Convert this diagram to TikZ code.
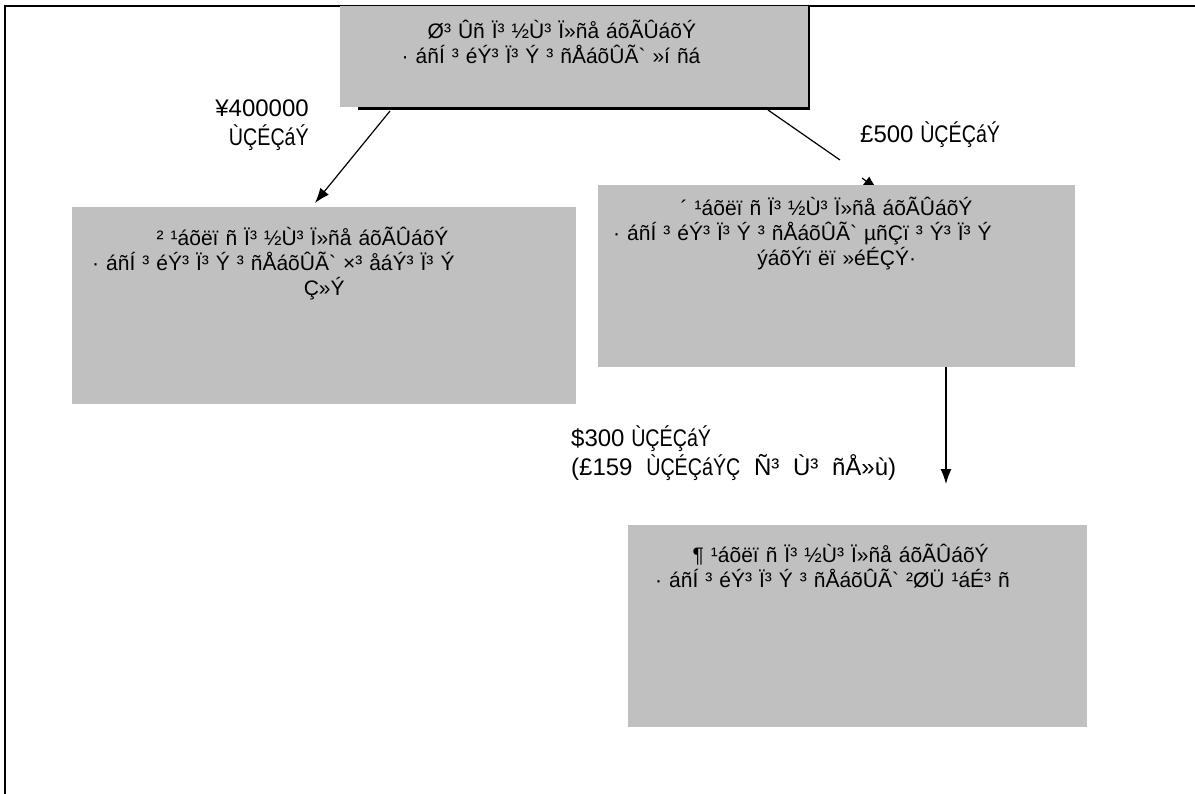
\documentclass[tikz,border=0pt]{standalone}
\usepackage{fontspec}
\usepackage{graphicx}
\setmainfont{Liberation Sans}
\newfontfamily\boxfont{Liberation Sans}[WordSpace=1.8]
\newfontfamily\lblfont{Liberation Sans}
\usetikzlibrary{arrows.meta,calc,backgrounds}
\definecolor{boxgray}{RGB}{192,192,192}
\newcommand\fitline[2]{\makebox[#1][s]{#2}}
\newcommand\narrow[1]{\scalebox{0.82}[1]{#1}}
\tikzset{
  graybox/.style={fill=boxgray, draw=none, anchor=north west, inner sep=0pt, align=center,
    font=\boxfont\fontsize{21}{25}\selectfont},
  lbl/.style={inner sep=0pt, font=\lblfont\fontsize{24}{29}\selectfont},
  conn/.style={line width=1.2pt, -{Latex[length=15pt,width=11pt]}},
  plainconn/.style={line width=1.2pt},
  frameline/.style={line width=2pt}
}
\begin{document}
\begin{tikzpicture}[x=1pt,y=-1pt]
\useasboundingbox (0,0) rectangle (1195,794);
% frame
\draw[frameline] (1195,6) -- (5,6) -- (5,794);
% boxes
\node[graybox, minimum width=468pt, minimum height=101pt, text width=468pt, text height=32pt, text depth=69pt] (tb) at (340,6)
  {\fitline{293pt}{Ø³ Ûñ Ï³ ½Ù³ Ï»ñå áõÃÛáõÝ}\\\fitline{345pt}{· áñÍ ³ éÝ³ Ï³ Ý ³ ñÅáõÛÃ` »í ñá}};
\draw[line width=3pt] ($(tb.south west)+(18,1.5)$) -- ($(tb.south east)+(2,1.5)$);
\draw[line width=2pt] ($(tb.south east)+(1,3)$) -- ($(tb.north east)+(1,0)$);
\node[graybox, minimum width=504pt, minimum height=197pt, text width=504pt, text height=38pt, text depth=159pt] (lb) at (72,207)
  {\fitline{335pt}{² ¹áõëï ñ Ï³ ½Ù³ Ï»ñå áõÃÛáõÝ}\\\fitline{464pt}{· áñÍ ³ éÝ³ Ï³ Ý ³ ñÅáõÛÃ` ×³ åáÝ³ Ï³ Ý}\\Ç»Ý};
\node[graybox, minimum width=477pt, minimum height=182pt, text width=477pt, text height=30pt, text depth=152pt] (rb) at (598,185)
  {\fitline{312pt}{´ ¹áõëï ñ Ï³ ½Ù³ Ï»ñå áõÃÛáõÝ}\\\fitline{447pt}{· áñÍ ³ éÝ³ Ï³ Ý ³ ñÅáõÛÃ` µñÇï ³ Ý³ Ï³ Ý}\\ýáõÝï ëï »éÉÇÝ·};
\node[graybox, minimum width=459pt, minimum height=202pt, text width=459pt, text height=37pt, text depth=165pt] (bb) at (628,525)
  {\fitline{330pt}{¶ ¹áõëï ñ Ï³ ½Ù³ Ï»ñå áõÃÛáõÝ}\\\fitline{405pt}{· áñÍ ³ éÝ³ Ï³ Ý ³ ñÅáõÛÃ` ²ØÜ ¹áÉ³ ñ}};
% labels
\node[lbl, anchor=north east, align=right, text height=46pt] (l1) at (309,99) {¥400000\\\narrow{ÙÇÉÇáÝ}};
\node[lbl, anchor=base west] (l2) at (860,143) {£500 \narrow{ÙÇÉÇáÝ}};
\node[lbl, anchor=north west, align=left, text height=46pt] (l3) at (571,429) {\$300 \narrow{ÙÇÉÇáÝ}\\\fitline{325pt}{(£159 \narrow{ÙÇÉÇáÝÇ} Ñ³ Ù³ ñÅ»ù)}};
% connectors
\coordinate (a1s) at (390,111);
\coordinate (a1e) at (315,203);
\draw[conn] (a1s) -- (a1e);
\coordinate (a2s) at (768,110);
\coordinate (a2m) at (840,160);
\coordinate (a2b) at (862,178);
\coordinate (a2e) at (878,190);
\draw[plainconn] (a2s) -- (a2m);
\begin{pgfonlayer}{background}
\draw[conn] (a2b) -- (a2e);
\end{pgfonlayer}
\coordinate (a3x) at (946,0);
\coordinate (a3e) at (946,484);
\draw[conn] (rb.south -| a3x) -- (a3e);
\end{tikzpicture}
\end{document}
